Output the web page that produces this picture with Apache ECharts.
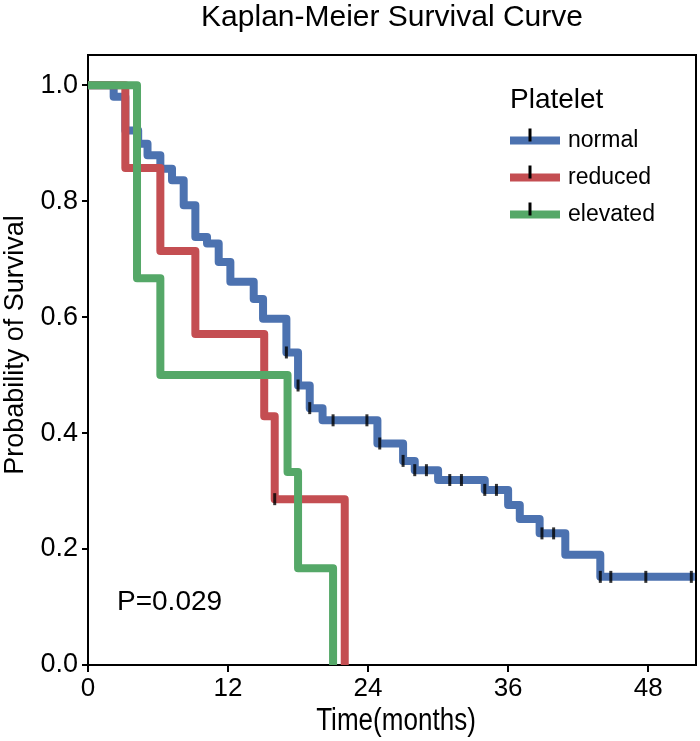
<!DOCTYPE html>
<html>
<head>
<meta charset="utf-8">
<script src="https://cdn.jsdelivr.net/npm/echarts@6/dist/echarts.min.js"></script>
<style>
  html, body { margin: 0; padding: 0; background: #fff; }
  #chart { width: 700px; height: 741px; }
</style>
</head>
<body>
<div id="chart"></div>
<script>
// ---- data ----
const seriesNames = ['normal', 'reduced', 'elevated'];

const normalTime = [0, 2.2, 3.2, 4.3, 5.1, 6.2, 7.2, 8.2, 9.2, 10.2, 11.2, 12.2, 14.2, 15.0, 17.0, 18.0, 19.0, 20.1, 24.8, 27.0, 28.0, 30.0, 34.0, 36.0, 37.0, 38.7, 40.9, 43.9, 52.0];
const normalSurv = [1.0, 0.980, 0.922, 0.899, 0.879, 0.856, 0.836, 0.793, 0.738, 0.727, 0.695, 0.661, 0.631, 0.597, 0.539, 0.482, 0.443, 0.422, 0.382, 0.352, 0.336, 0.319, 0.302, 0.276, 0.252, 0.227, 0.190, 0.152, 0.152];
const normalCensor = [17.0, 18.0, 19.0, 21.0, 23.9, 25.0, 27.0, 28.0, 29.0, 31.0, 32.0, 34.0, 35.0, 38.9, 39.9, 43.9, 44.8, 47.8, 51.7];

const reducedTime = [0, 3.2, 6.2, 9.2, 15.1, 16.0, 22.0];
const reducedSurv = [1.0, 0.857, 0.714, 0.571, 0.429, 0.286, 0.0];
const reducedCensor = [16.0];

const elevatedTime = [0, 4.2, 6.2, 17.1, 18.0, 21.0];
const elevatedSurv = [1.0, 0.667, 0.500, 0.333, 0.167, 0.0];
const elevatedCensor = [];

const xTicks = [0, 12, 24, 36, 48];
const yTicks = [0, 0.2, 0.4, 0.6, 0.8, 1.0];
const pValueText = 'P=0.029';

// ---- build ----
const colors = ['#4C72B0', '#C44E52', '#55A868'];
const FONT = '"Liberation Sans", Arial, Helvetica, sans-serif';

function pairs(t, s) { return t.map((v, i) => [v, s[i]]); }
function survAt(t, s, x) {
  let v = s[0];
  for (let i = 0; i < t.length; i++) { if (t[i] <= x + 1e-9) v = s[i]; }
  return v;
}
const groups = [
  [normalTime, normalSurv, normalCensor],
  [reducedTime, reducedSurv, reducedCensor],
  [elevatedTime, elevatedSurv, elevatedCensor]
];

const series = [];
groups.forEach((g, i) => {
  series.push({
    name: seriesNames[i],
    type: 'line',
    step: 'end',
    data: pairs(g[0], g[1]),
    showSymbol: false,
    symbol: 'none',
    silent: true,
    z: 2 + i,
    color: colors[i],
    lineStyle: { color: colors[i], width: 8, join: 'round', cap: 'butt' }
  });
});
groups.forEach((g, i) => {
  if (!g[2].length) return;
  series.push({
    name: seriesNames[i] + '-censor',
    type: 'scatter',
    data: g[2].map(x => [x, survAt(g[0], g[1], x)]),
    symbol: 'rect',
    symbolSize: [3, 12],
    itemStyle: { color: '#000' },
    silent: true,
    z: 10
  });
});

const chart = echarts.init(document.getElementById('chart'), null, { renderer: 'canvas' });

const legendLeft = 505, legendTop = 124, rowPitch = 37;
const legendTicks = seriesNames.map((n, i) => ({
  type: 'rect',
  shape: { x: legendLeft + 25 - 1.5, y: legendTop + 11.5 + i * rowPitch - 7, width: 3, height: 13 },
  style: { fill: '#000' },
  z: 100
}));

chart.setOption({
  animation: false,
  backgroundColor: '#fff',
  grid: { left: 88, right: 4, top: 55, bottom: 76, show: true, borderColor: '#000', borderWidth: 2, backgroundColor: 'transparent' },
  xAxis: {
    type: 'value', min: 0, max: 52.1,
    axisLine: { show: true, lineStyle: { color: '#000', width: 2 } },
    axisTick: { show: true, length: 7, lineStyle: { color: '#000', width: 2 }, customValues: xTicks },
    axisLabel: { color: '#000', fontSize: 26, fontFamily: FONT, margin: 11, customValues: xTicks, formatter: v => String(v) },
    splitLine: { show: false }
  },
  yAxis: {
    type: 'value', min: 0, max: 1.052,
    axisLine: { show: true, lineStyle: { color: '#000', width: 2 } },
    axisTick: { show: true, length: 6, lineStyle: { color: '#000', width: 2 }, customValues: yTicks },
    axisLabel: { color: '#000', fontSize: 27, fontFamily: FONT, margin: 10, customValues: yTicks, formatter: v => v.toFixed(1) },
    splitLine: { show: false }
  },
  legend: {
    data: seriesNames,
    orient: 'vertical',
    left: legendLeft, top: legendTop,
    itemWidth: 50, itemHeight: 8, itemGap: rowPitch - 23,
    icon: 'rect',
    selectedMode: false,
    textStyle: { color: '#000', fontSize: 23, fontFamily: FONT, lineHeight: 23, padding: [0, 0, 0, 3] }
  },
  graphic: [
    { type: 'text', x: 392, y: 18, style: { text: 'Kaplan-Meier Survival Curve', font: '30px ' + FONT, fill: '#000', align: 'center', verticalAlign: 'middle' } },
    { type: 'text', x: 510, y: 100, style: { text: 'Platelet', font: '28px ' + FONT, fill: '#000', align: 'left', verticalAlign: 'middle' } },
    { type: 'text', x: 117, y: 602, style: { text: pValueText, font: '28px ' + FONT, fill: '#000', align: 'left', verticalAlign: 'middle' } },
    { type: 'text', x: 396, y: 721, scaleX: 0.84, style: { text: 'Time(months)', font: '31px ' + FONT, fill: '#000', align: 'center', verticalAlign: 'middle' } },
    { type: 'text', x: 16, y: 345, rotation: Math.PI / 2, style: { text: 'Probability of Survival', font: '27px ' + FONT, fill: '#000', align: 'center', verticalAlign: 'middle' } }
  ].concat(legendTicks),
  series: series
});
</script>
</body>
</html>
